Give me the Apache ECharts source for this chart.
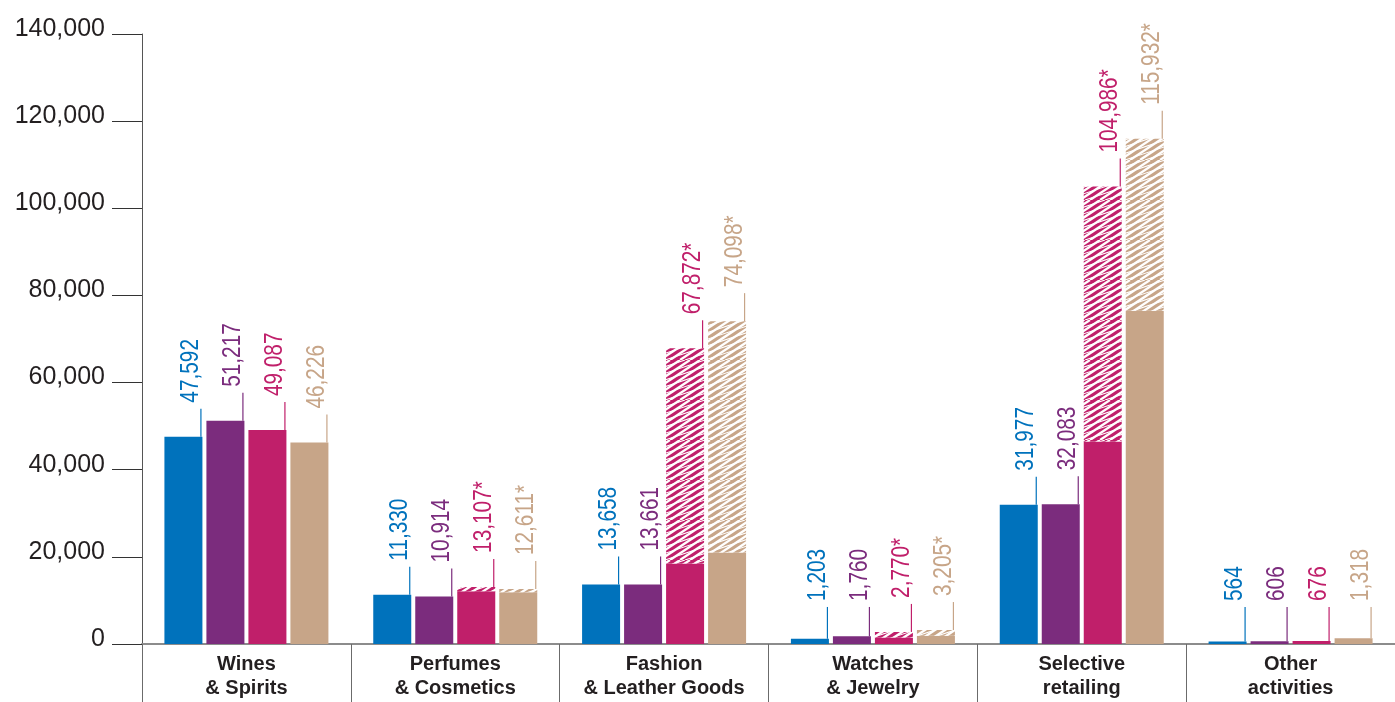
<!DOCTYPE html>
<html>
<head>
<meta charset="utf-8">
<script src="https://cdn.jsdelivr.net/npm/echarts@6/dist/echarts.min.js"></script>
<style>
html,body{margin:0;padding:0;background:#fff;}
#chart{width:1395px;height:702px;}
</style>
</head>
<body>
<div id="chart"></div>
<script>
// ---- data ----
var categories = ['Wines\n& Spirits', 'Perfumes\n& Cosmetics', 'Fashion\n& Leather Goods', 'Watches\n& Jewelry', 'Selective\nretailing', 'Other\nactivities'];
var seriesA = [47592, 11330, 13658, 1203, 31977, 564];   // blue
var seriesB = [51217, 10914, 13661, 1760, 32083, 606];   // purple
var seriesC = [49087, 13107, 67872, 2770, 104986, 676];  // magenta (total)
var seriesD = [46226, 12611, 74098, 3205, 115932, 1318]; // tan (total)
var seriesCSolid = [49087, 12100, 18500, 1500, 46500, 676]; // solid part of magenta
var seriesDSolid = [46226, 11900, 21000, 1900, 76500, 1318]; // solid part of tan
var starredC = [false, true, true, true, true, false];
var starredD = [false, true, true, true, true, false];
var yTicks = [0, 20000, 40000, 60000, 80000, 100000, 120000, 140000];

// ---- style ----
var colors = ['#0072bc', '#7b2c7d', '#c01f6a', '#c7a588'];
var BW = 38, GAP = 4;
var labelFont = "'Liberation Sans',Arial,sans-serif";

function hatch(color) {
  var W = 60, H = 40;
  var c = document.createElement('canvas');
  c.width = W; c.height = H;
  var ctx = c.getContext('2d');
  ctx.fillStyle = color;
  ctx.fillRect(0, 0, W, H);
  ctx.strokeStyle = '#ffffff';
  ctx.lineCap = 'butt';
  ctx.lineWidth = 2.3;
  for (var k = -14; k <= 14; k++) {
    var x0 = k * 10;
    ctx.beginPath();
    ctx.moveTo(x0, H);
    ctx.lineTo(x0 + W, 0);
    ctx.stroke();
  }
  ctx.lineWidth = 1.1;
  for (var j = -14; j <= 14; j++) {
    var x1 = j * 20 + 5;
    ctx.beginPath();
    ctx.moveTo(x1, H);
    ctx.lineTo(x1 + 120, 0);
    ctx.stroke();
  }
  return { image: c, repeat: 'repeat' };
}

function diff(a, b) { return a.map(function (v, i) { return v - b[i]; }); }

var labelData = [];
[[seriesA, 0, null], [seriesB, 1, null], [seriesC, 2, starredC], [seriesD, 3, starredD]].forEach(function (s) {
  s[0].forEach(function (v, i) {
    labelData.push([i, v, s[1], s[2] && s[2][i] ? 1 : 0]);
  });
});

var chart = echarts.init(document.getElementById('chart'));
var gapPct = (GAP / BW * 100) + '%';
var option = {
  animation: false,
  grid: { left: 142, right: 0, top: 34, bottom: 58, containLabel: false },
  xAxis: {
    type: 'category',
    data: categories,
    axisLine: { show: true, lineStyle: { color: '#8c8c8c', width: 2 } },
    axisTick: { show: true, length: 58, lineStyle: { color: '#6b6b6b', width: 1 } },
    axisLabel: {
      interval: 0, margin: 8, color: '#231f20', fontSize: 20, fontWeight: 'bold',
      lineHeight: 24, fontFamily: "'Liberation Sans',Arial,sans-serif"
    }
  },
  yAxis: {
    type: 'value', min: 0, max: 140000, interval: 20000,
    splitLine: { show: false },
    axisLine: { show: true, lineStyle: { color: '#555', width: 1 } },
    axisTick: { show: true, length: 30, lineStyle: { color: '#333', width: 1 } },
    axisLabel: {
      margin: 37, color: '#231f20', fontSize: 25, verticalAlign: 'bottom', lineHeight: 10,
      fontFamily: "'Liberation Sans',Arial,sans-serif",
      formatter: function (v) { return v === 0 ? '0' : v.toLocaleString('en-US'); }
    }
  },
  series: [
    { type: 'bar', name: 'A', data: seriesA, barWidth: BW, barGap: gapPct, itemStyle: { color: colors[0] } },
    { type: 'bar', name: 'B', data: seriesB, barWidth: BW, barGap: gapPct, itemStyle: { color: colors[1] } },
    { type: 'bar', name: 'C', stack: 'c', data: seriesCSolid, barWidth: BW, barGap: gapPct, itemStyle: { color: colors[2] } },
    { type: 'bar', name: 'Ch', stack: 'c', data: diff(seriesC, seriesCSolid), barWidth: BW, barGap: gapPct, itemStyle: { color: hatch(colors[2]) } },
    { type: 'bar', name: 'D', stack: 'd', data: seriesDSolid, barWidth: BW, barGap: gapPct, itemStyle: { color: colors[3] } },
    { type: 'bar', name: 'Dh', stack: 'd', data: diff(seriesD, seriesDSolid), barWidth: BW, barGap: gapPct, itemStyle: { color: hatch(colors[3]) } },
    {
      type: 'custom', name: 'labels', data: labelData, z: 10,
      encode: { x: 0, y: 1 },
      renderItem: function (params, api) {
        var cat = api.value(0), val = api.value(1), s = api.value(2), star = api.value(3);
        var p = api.coord([cat, val]);
        var x = p[0] + (s - 1.5) * (BW + GAP) + BW / 2 - 1.5;
        var yTop = p[1];
        var lineTop = Math.min(yTop - 28, api.coord([cat, 8500])[1]);
        var txt = val.toLocaleString('en-US') + (star ? '*' : '');
        return {
          type: 'group',
          children: [
            { type: 'line', shape: { x1: x, y1: yTop, x2: x, y2: lineTop }, style: { stroke: colors[s], lineWidth: 1.2 } },
            {
              type: 'text', x: x + 3, y: lineTop - 6, rotation: Math.PI / 2, scaleX: 0.8, scaleY: 1,
              style: { text: txt, fill: colors[s], fontSize: 26, fontFamily: labelFont, align: 'left', verticalAlign: 'bottom' }
            }
          ]
        };
      }
    }
  ]
};
chart.setOption(option);
</script>
</body>
</html>
